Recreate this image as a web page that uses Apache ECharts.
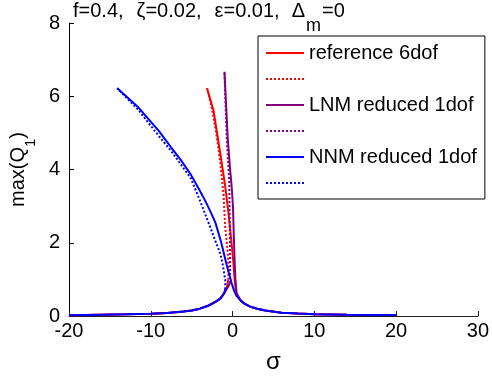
<!DOCTYPE html>
<html>
<head>
<meta charset="utf-8">
<script src="https://cdn.jsdelivr.net/npm/echarts@6/dist/echarts.min.js"></script>
<style>
html,body{margin:0;padding:0;background:#fff;}
#c{width:492px;height:379px;}
</style>
</head>
<body>
<div id="c"></div>
<script>
// ---- data (sigma, max(Q1)) ----
const xTicks = [-20, -10, 0, 10, 20, 30];
const yTicks = [0, 2, 4, 6, 8];
const seriesNames = ['reference 6dof', ' ', 'LNM reduced 1dof', '  ', 'NNM reduced 1dof', '   '];

// lower (stable) branches, left flank
const lowerBlue = [[-20,0.02],[-16,0.035],[-13,0.045],[-10,0.06],[-8,0.08],[-6,0.12],[-5,0.15],[-4,0.2],[-3.5,0.24],[-3,0.28],[-2.5,0.33],[-2,0.4],[-1.5,0.47],[-1.2,0.56],[-1,0.65],[-0.9,0.73]];
const lowerRed = [[-20,0.02],[-16,0.035],[-13,0.045],[-10,0.06],[-8,0.08],[-6,0.12],[-5,0.15],[-4,0.2],[-3,0.28],[-2,0.4],[-1.5,0.48],[-1,0.62],[-0.7,0.78],[-0.52,0.99]];
const lowerPurple = [[-20,0.02],[-16,0.035],[-13,0.045],[-10,0.06],[-8,0.08],[-6,0.12],[-5,0.15],[-4,0.2],[-3,0.28],[-2,0.4],[-1.5,0.48],[-1,0.63],[-0.6,0.78],[-0.3,0.9]];

// upper (stable) branches incl. right flank
const upperRed = [[-3.12,6.22],[-2.32,5.6],[-1.51,4.45],[-0.91,3.56],[-0.52,2.85],[-0.31,2.41],[0.08,1.52],[0.25,1.0],[0.45,0.6],[1,0.42],[1.5,0.33],[2.1,0.26],[3,0.2],[4,0.15],[6,0.09],[8,0.065],[10,0.05],[14,0.035],[20,0.025]];
const upperPurple = [[-0.99,6.67],[-0.8,5.8],[-0.6,4.89],[-0.3,4.0],[-0.12,3.56],[0.05,3.0],[0.15,2.2],[0.25,1.52],[0.35,1.0],[0.5,0.62],[1,0.42],[1.5,0.33],[2.1,0.26],[3,0.2],[4,0.15],[6,0.09],[8,0.065],[10,0.05],[14,0.035],[20,0.025]];
const upperBlue = [[-14.1,6.22],[-11.5,5.69],[-9,5.05],[-7.5,4.6],[-6.2,4.22],[-5.1,3.86],[-4.2,3.5],[-3.4,3.17],[-2.7,2.85],[-2.1,2.55],[-1.4,2.02],[-0.72,1.39],[-0.3,1.05],[-0.12,0.9],[0.2,0.68],[0.48,0.55],[1,0.42],[1.5,0.33],[2.1,0.26],[3,0.2],[4,0.15],[6,0.09],[8,0.065],[10,0.05],[14,0.035],[20,0.025]];

// unstable (dotted) branches
const dotRed = [[-0.52,0.99],[-0.52,1.52],[-0.7,2.0],[-0.9,2.41],[-1.1,3.3],[-1.5,4.2],[-2.0,5.0],[-2.6,5.75],[-3.12,6.22]];
const dotPurple = [[-0.3,0.9],[-0.31,1.52],[-0.35,2.5],[-0.4,3.65],[-0.72,4.89],[-0.88,5.9],[-0.99,6.67]];
const dotBlue = [[-0.9,0.73],[-0.9,0.99],[-1.2,1.4],[-1.5,1.7],[-2.1,2.05],[-2.7,2.41],[-3.9,3.1],[-5.1,3.76],[-7.5,4.5],[-9.5,5.05],[-11.5,5.62],[-14.1,6.22]];

const colors = ['#ff0000', '#ff0000', '#800080', '#800080', '#0000ff', '#0000ff'];
const FONT = 'Liberation Sans, Arial, Helvetica, sans-serif';
const FS = 20;

function joinBranches(a, b) { return a.concat([[null, null]], b); }

const dataSets = [
  joinBranches(lowerRed, upperRed), dotRed,
  joinBranches(lowerPurple, upperPurple), dotPurple,
  joinBranches(lowerBlue, upperBlue), dotBlue
];

const txt = {fontSize: FS, fontFamily: FONT, color: '#000', verticalAlign: 'top', lineHeight: 22};

const chart = echarts.init(document.getElementById('c'), null, {renderer: 'canvas'});
chart.setOption({
  animation: false,
  backgroundColor: '#fff',
  title: {
    left: 73, top: 1, padding: 0,
    text: '{a|f=0.4,}{g|ζ}{a|=0.02,}{g|ε}{a|=0.01,}{d|Δ}{s|m}{a|=0}',
    textStyle: {
      fontFamily: FONT, fontWeight: 'normal', color: '#000',
      rich: {
        a: txt,
        g: Object.assign({}, txt, {padding: [0, 0, 0, 13]}),
        d: Object.assign({}, txt, {padding: [0, 1, 0, 12]}),
        s: {fontSize: 18, fontFamily: FONT, color: '#000', verticalAlign: 'bottom', lineHeight: 34, padding: [0, 1, 0, 0]}
      }
    }
  },
  grid: {left: 63, right: 13, top: 23, bottom: 55, containLabel: false},
  legend: {
    orient: 'vertical', left: 258, top: 36,
    data: seriesNames,
    padding: [6, 8, 5, 7],
    itemGap: 4, itemWidth: 38, itemHeight: 14,
    borderColor: '#000', borderWidth: 1, backgroundColor: '#fff',
    itemStyle: {opacity: 0},
    textStyle: {fontFamily: FONT, fontSize: FS, color: '#000', lineHeight: 22},
    selectedMode: false
  },
  xAxis: {
    type: 'value', min: xTicks[0], max: xTicks[xTicks.length-1], interval: 10,
    name: 'σ', nameLocation: 'middle', nameGap: 34,
    nameTextStyle: {fontFamily: FONT, fontSize: 24, color: '#000'},
    axisLine: {show: true, onZero: false, lineStyle: {color: '#222', width: 1}},
    axisTick: {inside: true, length: 5, lineStyle: {color: '#222'}},
    axisLabel: {fontFamily: FONT, fontSize: FS, color: '#000', margin: 5, showMinLabel: true, showMaxLabel: true},
    splitLine: {show: false}
  },
  yAxis: {
    type: 'value', min: yTicks[0], max: yTicks[yTicks.length-1], interval: 2,
    name: '{a|max(Q}{s|1}{a|)}', nameLocation: 'middle', nameGap: 25, nameRotate: 90,
    nameTextStyle: {
      fontFamily: FONT, color: '#000',
      rich: {
        a: {fontSize: FS, fontFamily: FONT, color: '#000', verticalAlign: 'top', lineHeight: 22},
        s: {fontSize: 15, fontFamily: FONT, color: '#000', verticalAlign: 'bottom', lineHeight: 30}
      }
    },
    axisLine: {show: true, onZero: false, lineStyle: {color: '#000', width: 1}},
    axisTick: {inside: true, length: 5, lineStyle: {color: '#000'}},
    axisLabel: {fontFamily: FONT, fontSize: FS, color: '#000', margin: 9},
    splitLine: {show: false}
  },
  series: dataSets.map((d, i) => ({
    name: seriesNames[i],
    type: 'line',
    data: d,
    symbol: 'none',
    connectNulls: false,
    smooth: false,
    lineStyle: {color: colors[i], width: 2, type: (i % 2 === 1) ? [2, 2] : 'solid'},
    itemStyle: {color: colors[i]},
    z: 2 + i
  }))
});
</script>
</body>
</html>
